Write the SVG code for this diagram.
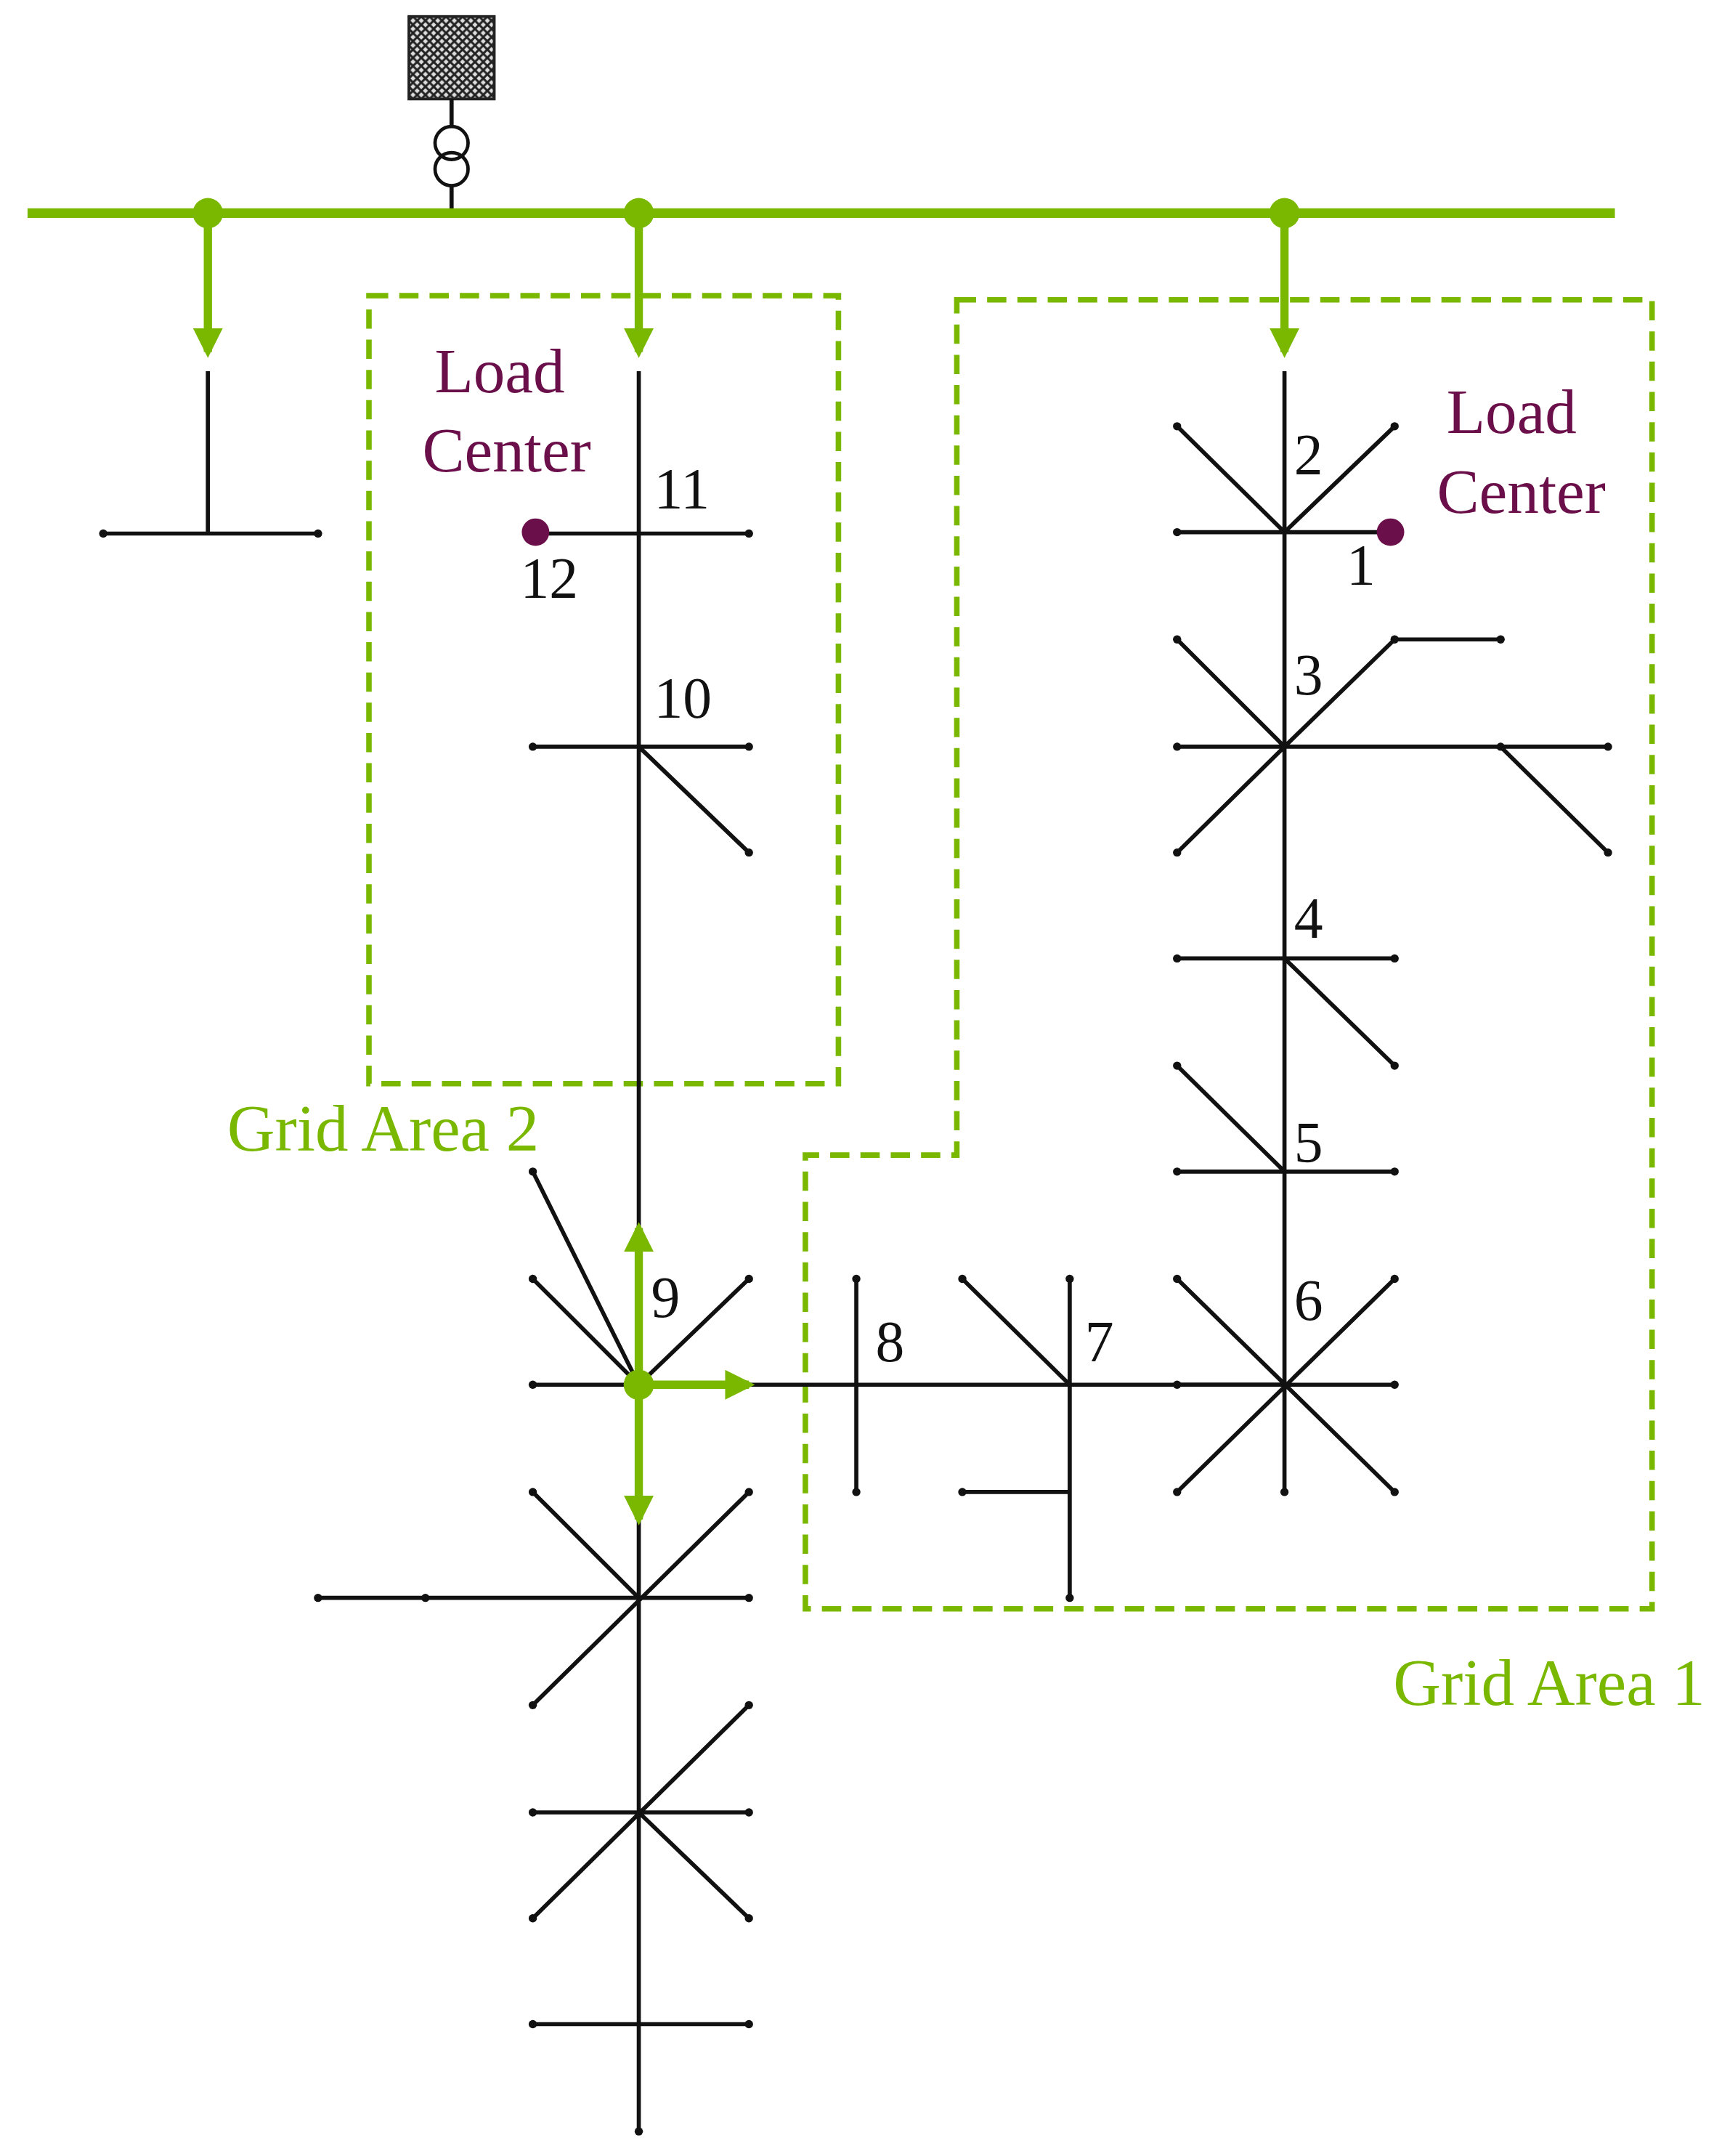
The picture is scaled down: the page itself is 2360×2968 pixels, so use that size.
<svg xmlns="http://www.w3.org/2000/svg" width="2360" height="2968" viewBox="0 0 2360 2968">
<defs>
<pattern id="hatch" width="6" height="6" patternUnits="userSpaceOnUse"><rect width="6" height="6" fill="#ddd"/><path d="M0 0L6 6M6 0L0 6" stroke="#222" stroke-width="1.6"/></pattern>
<marker id="ah" viewBox="0 0 10 10" refX="8" refY="5" markerWidth="3.6" markerHeight="3.6" orient="auto" markerUnits="strokeWidth"><path d="M0 0L10 5L0 10z" fill="#7ab800"/></marker>
</defs>
<style>
.ln{stroke:#111;stroke-width:3;fill:none}
.g{stroke:#7ab800;stroke-width:6;fill:none}
.bus{stroke:#7ab800;stroke-width:7}
.box{stroke:#7ab800;stroke-width:4;fill:none;stroke-dasharray:14 8}
.d{fill:#111}
.t{font-family:"Liberation Serif",serif;font-size:42px;fill:#111}
.lc{font-family:"Liberation Serif",serif;font-size:46px;fill:#6b0f4a;text-anchor:middle}
.ga{font-family:"Liberation Serif",serif;font-size:48px;fill:#7ab800}
</style>
<g transform="scale(1.8956 1.893)">
<g id="source">
<rect x="297" y="12" width="62" height="60" fill="url(#hatch)" stroke="#222" stroke-width="2"/>
<path class="ln" d="M328 72V92M328 134V155"/>
<circle cx="328" cy="104" r="12" fill="none" stroke="#111" stroke-width="2.5"/>
<circle cx="328" cy="123" r="12" fill="none" stroke="#111" stroke-width="2.5"/>
</g>
<g id="bus">
<line class="bus" x1="20" y1="155" x2="1173" y2="155"/>
<circle cx="151" cy="155" r="11" fill="#7ab800"/>
<circle cx="464" cy="155" r="11" fill="#7ab800"/>
<circle cx="933" cy="155" r="11" fill="#7ab800"/>
</g>
<g id="areas">
<rect class="box" x="268" y="215" width="341" height="573"/>
<path class="box" d="M695 218H1200V1170H585V840H695Z"/>
<text class="ga" x="165" y="837">Grid Area 2</text>
<text class="ga" x="1012" y="1240">Grid Area 1</text>
<text class="lc" x="363" y="285">Load</text>
<text class="lc" x="368" y="343">Center</text>
<text class="lc" x="1098" y="315">Load</text>
<text class="lc" x="1105" y="373">Center</text>
</g>
<g id="lines">
<path class="ln" d="M151 270V388M75 388H231"/>
<path class="ln" d="M464 270V1550M390 388H544M387 543H544M464 543L544 620M387 852L464 1007M387 930L464 1007M544 930L464 1007M387 1007H933M231 1162H544M387 1085L464 1162M544 1085L387 1240M387 1318H544M544 1240L387 1395M464 1318L544 1395M387 1472H544"/>
<path class="ln" d="M933 270V1085M855 387H1010M855 310L933 387L1013 310M855 543H1168M855 465L933 543L855 620M933 543L1013 465H1090M1090 543L1168 620M855 697H1013M933 697L1013 775M855 852H1013M855 775L933 852M855 1007H1013M855 930L1013 1085M1013 930L855 1085M777 930V1162M699 930L777 1007M699 1085H777M622 930V1085"/>
<g class="d">
<circle cx="75" cy="388" r="3"/><circle cx="231" cy="388" r="3"/><circle cx="544" cy="388" r="3"/>
<circle cx="387" cy="543" r="3"/><circle cx="544" cy="543" r="3"/><circle cx="544" cy="620" r="3"/>
<circle cx="387" cy="852" r="3"/><circle cx="387" cy="930" r="3"/><circle cx="544" cy="930" r="3"/><circle cx="387" cy="1007" r="3"/>
<circle cx="231" cy="1162" r="3"/><circle cx="309" cy="1162" r="3"/><circle cx="544" cy="1162" r="3"/>
<circle cx="387" cy="1085" r="3"/><circle cx="544" cy="1085" r="3"/><circle cx="387" cy="1240" r="3"/><circle cx="544" cy="1240" r="3"/>
<circle cx="387" cy="1318" r="3"/><circle cx="544" cy="1318" r="3"/><circle cx="387" cy="1395" r="3"/><circle cx="544" cy="1395" r="3"/>
<circle cx="387" cy="1472" r="3"/><circle cx="544" cy="1472" r="3"/><circle cx="464" cy="1550" r="3"/>
<circle cx="855" cy="387" r="3"/><circle cx="855" cy="310" r="3"/><circle cx="1013" cy="310" r="3"/>
<circle cx="855" cy="543" r="3"/><circle cx="1168" cy="543" r="3"/><circle cx="855" cy="465" r="3"/><circle cx="855" cy="620" r="3"/><circle cx="1013" cy="465" r="3"/><circle cx="1090" cy="465" r="3"/><circle cx="1168" cy="620" r="3"/><circle cx="1090" cy="543" r="3"/>
<circle cx="855" cy="697" r="3"/><circle cx="1013" cy="697" r="3"/><circle cx="1013" cy="775" r="3"/>
<circle cx="855" cy="852" r="3"/><circle cx="1013" cy="852" r="3"/><circle cx="855" cy="775" r="3"/>
<circle cx="855" cy="1007" r="3"/><circle cx="1013" cy="1007" r="3"/><circle cx="855" cy="930" r="3"/><circle cx="1013" cy="930" r="3"/><circle cx="855" cy="1085" r="3"/><circle cx="1013" cy="1085" r="3"/><circle cx="933" cy="1085" r="3"/>
<circle cx="777" cy="930" r="3"/><circle cx="777" cy="1162" r="3"/><circle cx="699" cy="930" r="3"/><circle cx="699" cy="1085" r="3"/>
<circle cx="622" cy="930" r="3"/><circle cx="622" cy="1085" r="3"/>
</g>
<circle cx="389" cy="387" r="10" fill="#6b0f4a"/>
<circle cx="1010" cy="387" r="10" fill="#6b0f4a"/>
</g>
<g id="arrows">
<path class="g" marker-end="url(#ah)" d="M151 155V256"/>
<path class="g" marker-end="url(#ah)" d="M464 155V256"/>
<path class="g" marker-end="url(#ah)" d="M933 155V256"/>
<path class="g" marker-end="url(#ah)" d="M464 1007V893"/>
<path class="g" marker-end="url(#ah)" d="M464 1007H544"/>
<path class="g" marker-end="url(#ah)" d="M464 1007V1105"/>
<circle cx="464" cy="1007" r="11" fill="#7ab800"/>
</g>
<g id="labels">
<text class="t" x="475" y="370">11</text>
<text class="t" x="378" y="435">12</text>
<text class="t" x="475" y="522">10</text>
<text class="t" x="473" y="958">9</text>
<text class="t" x="940" y="345">2</text>
<text class="t" x="978" y="425">1</text>
<text class="t" x="940" y="505">3</text>
<text class="t" x="940" y="682">4</text>
<text class="t" x="940" y="845">5</text>
<text class="t" x="940" y="960">6</text>
<text class="t" x="788" y="990">7</text>
<text class="t" x="636" y="990">8</text>
</g>
</g>
</svg>
